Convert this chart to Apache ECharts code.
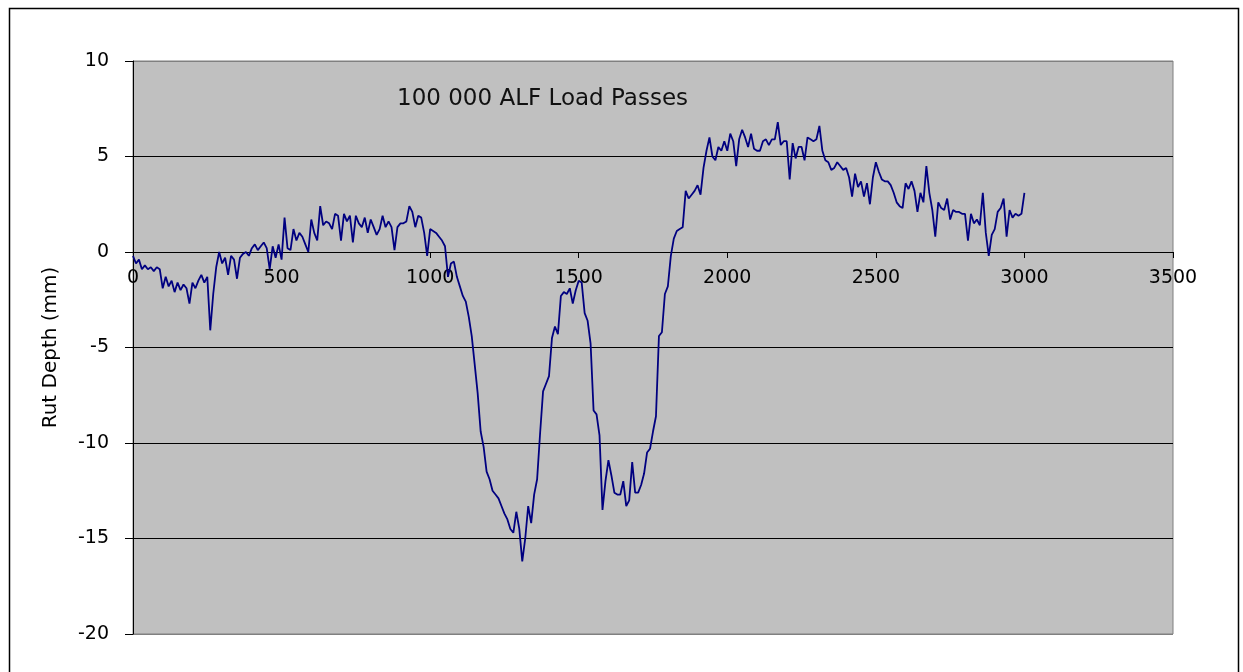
<!DOCTYPE html>
<html>
<head>
<meta charset="utf-8">
<script src="https://cdn.jsdelivr.net/npm/echarts@6/dist/echarts.min.js"></script>
<style>
  html, body { margin: 0; padding: 0; background: #fff; }
  #chart { width: 1243px; height: 672px; }
</style>
</head>
<body>
<div id="chart"></div>
<script>
// chart text
const titleText = "100 000 ALF Load Passes";
const yAxisName = "Rut Depth (mm)";

// x axis ticks (0..3500 step 500), y axis ticks (-20..10 step 5)
const xTicks = [0, 500, 1000, 1500, 2000, 2500, 3000, 3500];
const yTicks = [-20, -15, -10, -5, 0, 5, 10];

// measurements are taken every 10 units along the x axis, starting at 0
const sampleStep = 10;

// rut depth (mm), one row per 100 units of x
const rutDepth = [
  -0.2, -0.6, -0.4, -0.9, -0.7, -0.9, -0.8, -1.0, -0.8, -0.9,
  -1.9, -1.3, -1.8, -1.5, -2.1, -1.6, -2.0, -1.7, -1.9, -2.7,
  -1.6, -1.9, -1.5, -1.2, -1.6, -1.3, -4.1, -2.2, -0.8, 0.0,
  -0.6, -0.3, -1.2, -0.2, -0.4, -1.4, -0.3, -0.1, 0.0, -0.2,
  0.2, 0.4, 0.1, 0.3, 0.5, 0.2, -0.9, 0.3, -0.3, 0.4,
  -0.4, 1.8, 0.2, 0.1, 1.2, 0.6, 1.0, 0.8, 0.4, 0.0,
  1.7, 1.0, 0.6, 2.4, 1.4, 1.6, 1.5, 1.2, 2.0, 1.9,
  0.6, 2.0, 1.6, 1.9, 0.5, 1.9, 1.5, 1.3, 1.8, 1.0,
  1.7, 1.3, 0.9, 1.2, 1.9, 1.3, 1.6, 1.3, 0.1, 1.3,
  1.5, 1.5, 1.6, 2.4, 2.1, 1.3, 1.9, 1.8, 1.0, -0.2,
  1.2, 1.1, 1.0, 0.8, 0.6, 0.3, -1.3, -0.6, -0.5, -1.3,
  -1.8, -2.3, -2.6, -3.4, -4.4, -5.9, -7.4, -9.4, -10.2, -11.5,
  -11.9, -12.5, -12.7, -12.9, -13.3, -13.7, -14.0, -14.5, -14.7, -13.6,
  -14.5, -16.2, -15.0, -13.3, -14.2, -12.7, -11.9, -9.5, -7.3, -6.9,
  -6.5, -4.5, -3.9, -4.3, -2.3, -2.1, -2.2, -1.9, -2.7, -2.0,
  -1.5, -1.6, -3.2, -3.6, -4.8, -8.3, -8.5, -9.6, -13.5, -12.0,
  -10.9, -11.7, -12.6, -12.7, -12.7, -12.0, -13.3, -13.0, -11.0, -12.6,
  -12.6, -12.2, -11.6, -10.5, -10.3, -9.4, -8.6, -4.4, -4.2, -2.2,
  -1.8, -0.2, 0.7, 1.1, 1.2, 1.3, 3.2, 2.8, 3.0, 3.2,
  3.5, 3.0, 4.4, 5.3, 6.0, 5.0, 4.8, 5.5, 5.3, 5.8,
  5.3, 6.2, 5.8, 4.5, 5.9, 6.4, 6.0, 5.5, 6.2, 5.4,
  5.3, 5.3, 5.8, 5.9, 5.6, 5.9, 5.9, 6.8, 5.6, 5.8,
  5.8, 3.8, 5.7, 4.9, 5.5, 5.5, 4.8, 6.0, 5.9, 5.8,
  5.9, 6.6, 5.3, 4.8, 4.7, 4.3, 4.4, 4.7, 4.5, 4.3,
  4.4, 3.9, 2.9, 4.1, 3.4, 3.7, 2.9, 3.6, 2.5, 3.9,
  4.7, 4.2, 3.8, 3.7, 3.7, 3.5, 3.1, 2.6, 2.4, 2.3,
  3.6, 3.3, 3.7, 3.2, 2.1, 3.1, 2.6, 4.5, 3.1, 2.2,
  0.8, 2.6, 2.3, 2.2, 2.8, 1.7, 2.2, 2.1, 2.1, 2.0,
  2.0, 0.6, 2.0, 1.5, 1.7, 1.4, 3.1, 1.0, -0.2, 0.9,
  1.2, 2.1, 2.3, 2.8, 0.8, 2.2, 1.8, 2.0, 1.9, 2.0,
  3.1
];

const chart = echarts.init(document.getElementById("chart"));
const seriesData = rutDepth.map((v, i) => [i * sampleStep, v]);

// grid box
const gridTop = 61, gridBottom = 38, chartH = 672;
const plotH = chartH - gridTop - gridBottom;
// the x axis sits on y = 0, so shift it up from the bottom of the plot
const yMin = yTicks[0], yMax = yTicks[yTicks.length - 1];
const zeroShift = plotH * (0 - yMin) / (yMax - yMin);

// outer grid lines (top / bottom) are the grey plot border, inner ones black
const splitColors = yTicks.map((t, i) => (i === 0 || i === yTicks.length - 1) ? "#808080" : "#000000");

const option = {
  backgroundColor: "#ffffff",
  animation: false,
  grid: {
    left: 133,
    top: gridTop,
    right: 70,
    bottom: gridBottom,
    show: true,
    backgroundColor: "#c0c0c0",
    borderColor: "#808080",
    borderWidth: 1
  },
  graphic: [
    {
      type: "rect",
      left: 7,
      top: 6,
      shape: { width: 1229, height: 700 },
      style: { fill: "none", stroke: "#000", lineWidth: 1.5 },
      silent: true
    },
    {
      type: "text",
      left: 397,
      top: 88,
      style: {
        text: titleText,
        font: "23px 'DejaVu Sans'",
        fill: "#111"
      }
    }
  ],
  xAxis: {
    type: "value",
    min: xTicks[0],
    max: xTicks[xTicks.length - 1],
    interval: xTicks[1] - xTicks[0],
    offset: -zeroShift,
    axisLine: { onZero: false, lineStyle: { color: "#000", width: 1 } },
    axisTick: { show: true, length: 6, lineStyle: { color: "#000" } },
    axisLabel: {
      margin: 17,
      fontSize: 19,
      fontFamily: "DejaVu Sans",
      color: "#000",
      formatter: (v) => String(v)
    },
    splitLine: { show: false }
  },
  yAxis: {
    type: "value",
    min: yMin,
    max: yMax,
    interval: yTicks[1] - yTicks[0],
    name: yAxisName,
    nameLocation: "middle",
    nameGap: 72,
    nameTextStyle: { fontSize: 20, fontFamily: "DejaVu Sans", color: "#000" },
    axisLine: { show: true, lineStyle: { color: "#000", width: 1 } },
    axisTick: { show: true, length: 8, lineStyle: { color: "#000" } },
    axisLabel: {
      margin: 24,
      fontSize: 19,
      fontFamily: "DejaVu Sans",
      color: "#000"
    },
    splitLine: { show: true, lineStyle: { color: splitColors, width: 1 } }
  },
  series: [
    {
      name: "Rut Depth",
      type: "line",
      data: seriesData,
      showSymbol: false,
      lineStyle: { color: "#000080", width: 1.8 },
      z: 3
    }
  ]
};

chart.setOption(option);
</script>
</body>
</html>
